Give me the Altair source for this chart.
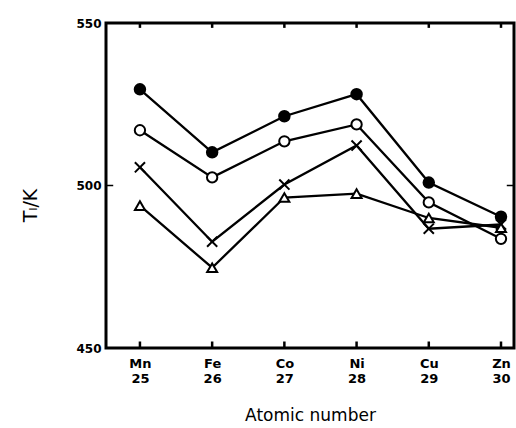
import altair as alt
import pandas as pd

atomic = [25, 26, 27, 28, 29, 30]
symbols = ["Mn", "Fe", "Co", "Ni", "Cu", "Zn"]
series_names = ["filled", "open", "cross", "triangle"]
filled = [529.6, 510.2, 521.3, 528.1, 500.9, 490.4]
opened = [517.0, 502.5, 513.6, 518.8, 494.8, 483.6]
cross = [505.6, 482.7, 500.3, 512.3, 486.7, 488.0]
triangle = [493.8, 474.7, 496.3, 497.5, 490.0, 487.0]
y_ticks = [450, 500, 550]

rows = []
for name, vals in zip(series_names, [filled, opened, cross, triangle]):
    for a, v in zip(atomic, vals):
        rows.append({"atomic": a, "series": name, "value": v})
df = pd.DataFrame(rows)

xdom = [24.53, 30.18]
ydom = [450, 550]

label_expr = " : ".join(
    [f"datum.value == {a} ? ['{s}', '{a}']" for a, s in zip(atomic, symbols)]
) + " : ''"

xenc = alt.X(
    "atomic:Q",
    scale=alt.Scale(domain=xdom, nice=False, zero=False),
    axis=alt.Axis(
        values=atomic, labelExpr=label_expr, title="Atomic number",
        domain=False, ticks=False, grid=False, labelPadding=9,
        labelFontSize=13, labelLineHeight=15, labelFont="DejaVu Sans",
        labelFontWeight="bold", labelColor="black",
        titleFontSize=17, titleFont="DejaVu Sans", titleFontWeight="normal",
        titleY=67, titleBaseline="middle", titleColor="black",
    ),
)
yenc = alt.Y(
    "value:Q",
    scale=alt.Scale(domain=ydom, nice=False, zero=False),
    axis=alt.Axis(
        values=y_ticks, title="Tₗ/K", domain=False, ticks=False, grid=False,
        labelPadding=5, labelFontSize=12, labelFont="DejaVu Sans",
        labelFontWeight="bold", labelColor="black",
        titleFontSize=19, titleFont="DejaVu Sans", titleFontWeight="normal",
        titleX=-76, titleY=182, titleAlign="center", titleBaseline="middle",
        titleColor="black",
    ),
)

base = alt.Chart(df)
lines = base.mark_line(color="black", strokeWidth=2.3).encode(
    x=xenc, y=yenc, detail="series:N"
)
points = base.mark_point(opacity=1, strokeWidth=2, color="black").encode(
    x="atomic:Q",
    y="value:Q",
    shape=alt.Shape("series:N", scale=alt.Scale(
        domain=series_names,
        range=["circle", "circle", "M-1,-1L1,1M-1,1L1,-1", "triangle-up"]),
        legend=None),
    fill=alt.Fill("series:N", scale=alt.Scale(
        domain=series_names, range=["black", "white", "white", "white"]),
        legend=None),
    size=alt.Size("series:N", scale=alt.Scale(
        domain=series_names, range=[110, 100, 45, 60]), legend=None),
)

tick_df = pd.DataFrame({"atomic": atomic})
top_ticks = alt.Chart(tick_df).mark_rule(color="black", strokeWidth=2.5).encode(
    x="atomic:Q", y=alt.datum(550), y2=alt.datum(548.5)
)
bottom_ticks = alt.Chart(tick_df).mark_rule(color="black", strokeWidth=2.5).encode(
    x="atomic:Q", y=alt.datum(450), y2=alt.datum(452)
)
side_df = pd.DataFrame({"x1": [xdom[0], xdom[1] - 0.1], "x2": [xdom[0] + 0.1, xdom[1]], "y": [500, 500]})
side_ticks = alt.Chart(side_df).mark_rule(color="black", strokeWidth=1.5).encode(
    x="x1:Q", x2="x2:Q", y="y:Q"
)

chart = alt.layer(lines, points, top_ticks, bottom_ticks, side_ticks).properties(
    width=408, height=325,
    background="white",
    autosize=alt.AutoSizeParams(type="none"),
    padding={"left": 106, "top": 23, "right": 2, "bottom": 80},
).configure_view(stroke="black", strokeWidth=3)

chart.save("out.html", embed_options={"renderer": "svg", "actions": False})
